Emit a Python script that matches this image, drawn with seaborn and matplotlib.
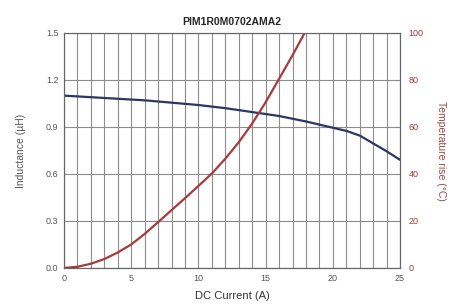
import matplotlib
matplotlib.use("Agg")
import matplotlib.pyplot as plt
import pandas as pd
import seaborn as sns

# Data
current_l = [0, 2, 4, 6, 8, 10, 12, 14, 16, 18, 19, 20, 21, 22, 23, 24, 25]
inductance = [1.10, 1.09, 1.08, 1.07, 1.055, 1.04, 1.02, 0.995, 0.97, 0.935,
              0.915, 0.895, 0.875, 0.845, 0.795, 0.745, 0.69]

current_t = [0, 1, 2, 3, 4, 5, 6, 7, 8, 9, 10, 11, 12, 13, 14, 15, 16, 17, 17.9]
temp_rise = [0, 0.5, 1.8, 3.8, 6.6, 10, 14.5, 19.5, 24.6, 29.7, 34.9, 40.2,
             46.5, 53.5, 61.5, 70.5, 80.5, 90.5, 100]

df_l = pd.DataFrame({'current': current_l, 'L': inductance})
df_t = pd.DataFrame({'current': current_t, 'T': temp_rise})

sns.set_theme(style='white')
plt.rcParams['font.family'] = ['Liberation Sans', 'DejaVu Sans']

navy = '#2c3763'
red = '#a83a3c'
grid = '#8c8c8c'

fig = plt.figure(figsize=(4.51, 3.08), dpi=100)
ax = fig.add_axes([0.142, 0.130, 0.745, 0.763])

sns.lineplot(data=df_l, x='current', y='L', ax=ax, color=navy, linewidth=1.6)
ax.set_xlim(0, 25)
ax.set_ylim(0, 1.5)
ax.set_xticks(range(0, 26, 5))
ax.set_xticks(range(0, 26, 1), minor=True)
ax.set_yticks([0.0, 0.3, 0.6, 0.9, 1.2, 1.5])
ax.set_yticklabels(['0.0', '0.3', '0.6', '0.9', '1.2', '1.5'])
ax.grid(True, which='both', axis='x', color=grid, linewidth=0.8)
ax.grid(True, which='major', axis='y', color=grid, linewidth=0.8)
ax.set_axisbelow(True)
ax.tick_params(axis='both', which='major', labelsize=6.5, colors='#555555',
               length=0, pad=4)
ax.tick_params(axis='x', which='minor', length=0)
ax.set_xlabel('DC Current (A)', fontsize=8, color='#333333', labelpad=6)
ax.set_ylabel('Inductance (µH)', fontsize=7.5, color='#555555', labelpad=14)
ax.set_title('PIM1R0M0702AMA2', fontsize=7.5, fontweight='bold', pad=6)

ax2 = ax.twinx()
sns.lineplot(data=df_t, x='current', y='T', ax=ax2, color=red, linewidth=1.6)
ax2.set_ylim(0, 100)
ax2.set_yticks(range(0, 101, 20))
ax2.tick_params(axis='y', labelsize=6.5, colors='#9b3b3b', length=0, pad=6)
ax2.set_ylabel('Temperature rise (°C)', fontsize=7.5, color='#a04545',
               rotation=270, labelpad=16)
ax2.set_xlim(0, 25)

for a in (ax, ax2):
    for s in a.spines.values():
        s.set_color('#666666')
        s.set_linewidth(0.8)

fig.savefig('out.png', dpi=100)
